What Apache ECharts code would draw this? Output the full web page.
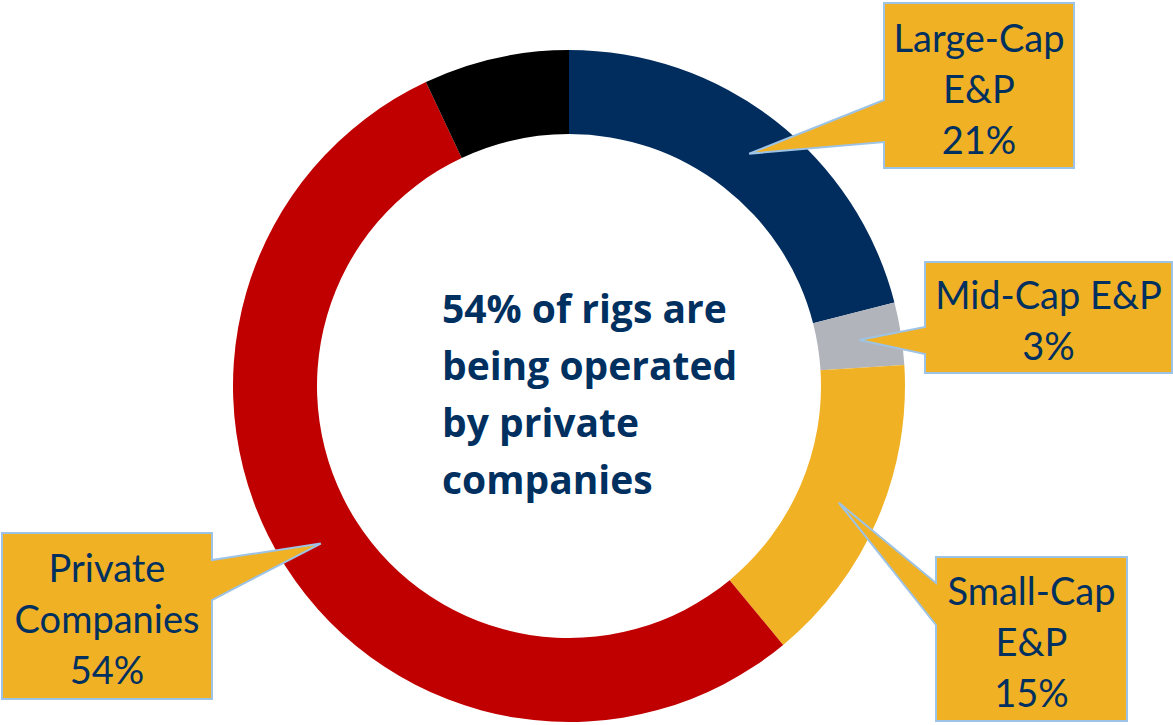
<!DOCTYPE html>
<html>
<head>
<meta charset="utf-8">
<script src="https://cdn.jsdelivr.net/npm/echarts@6/dist/echarts.min.js"></script>
<style>
  html, body { margin: 0; padding: 0; background: #fff; }
  #main { width: 1173px; height: 725px; }
</style>
</head>
<body>
<div id="main"></div>
<script type="text/javascript">
// data
var categories = ['Large-Cap E&P', 'Mid-Cap E&P', 'Small-Cap E&P', 'Private Companies', 'Other'];
var shares = [21, 3, 15, 54, 7];
var sliceColors = ['#002D5E', '#B2B4BC', '#F0B124', '#C00000', '#000000'];
var calloutLines = [
  ['Large-Cap', 'E&P', '21%'],
  ['Mid-Cap E&P', '3%'],
  ['Small-Cap', 'E&P', '15%'],
  ['Private', 'Companies', '54%'],
  null
];
var centerText = ['54% of rigs are', 'being operated', 'by private', 'companies'];

// layout
var cx = 569, cy = 386, rIn = 252, rOut = 336;
var navy = '#00305F';
var fontFam = 'Lato, "Open Sans", sans-serif';
// callout boxes: [x0, y0, x1, y1, side, pointer base y0, pointer base y1]
var boxes = [
  [884, 3, 1074, 168, 'left', 100, 142],
  [925, 262, 1172, 373, 'left', 327, 354],
  [936, 557, 1127, 721, 'left', 583, 625],
  [2, 533, 212, 699, 'right', 560, 600],
  null
];

var chart = echarts.init(document.getElementById('main'), null, { renderer: 'svg' });

var total = shares.reduce(function (a, b) { return a + b; }, 0);
var graphics = [];
var acc = 0;
for (var i = 0; i < shares.length; i++) {
  var mid = (acc + shares[i] / 2) / total * 2 * Math.PI; // from 12 o'clock, clockwise
  acc += shares[i];
  var b = boxes[i];
  if (!b) continue;
  var rm = (rIn + rOut) / 2;
  var tip = [cx + rm * Math.sin(mid), cy - rm * Math.cos(mid)];
  var pts;
  if (b[4] === 'left') {
    pts = [[b[0], b[1]], [b[2], b[1]], [b[2], b[3]], [b[0], b[3]], [b[0], b[6]], tip, [b[0], b[5]]];
  } else {
    pts = [[b[0], b[1]], [b[2], b[1]], [b[2], b[5]], tip, [b[2], b[6]], [b[2], b[3]], [b[0], b[3]]];
  }
  graphics.push({
    type: 'polygon',
    z: 10,
    shape: { points: pts },
    style: { fill: '#F0B124', stroke: '#9DC3E6', lineWidth: 2, lineJoin: 'miter' }
  });
  graphics.push({
    type: 'text',
    z: 11,
    x: (b[0] + b[2]) / 2,
    y: (b[1] + b[3]) / 2 + 2,
    style: {
      text: calloutLines[i].join('\n'),
      fill: navy,
      font: '38px ' + fontFam,
      lineHeight: 51,
      align: 'center',
      verticalAlign: 'middle'
    }
  });
}
graphics.push({
  type: 'text',
  z: 11,
  x: 442,
  y: 393,
  style: {
    text: centerText.join('\n'),
    fill: navy,
    font: 'bold 39px "Open Sans", Lato, sans-serif',
    lineHeight: 57,
    align: 'left',
    verticalAlign: 'middle'
  }
});

chart.setOption({
  animation: false,
  color: sliceColors,
  series: [{
    type: 'pie',
    center: [cx, cy],
    radius: [rIn, rOut],
    startAngle: 90,
    clockwise: true,
    label: { show: false },
    labelLine: { show: false },
    itemStyle: { borderWidth: 0 },
    data: categories.map(function (c, k) { return { name: c, value: shares[k] }; })
  }],
  graphic: graphics
});
</script>
</body>
</html>
